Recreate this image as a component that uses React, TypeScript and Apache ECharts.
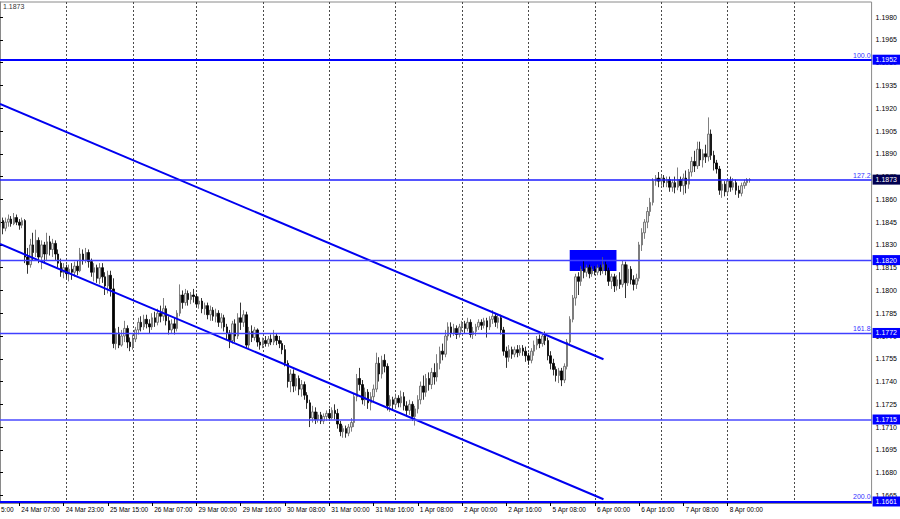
import React, { useEffect, useRef } from "react";
import * as echarts from "echarts";

// ---- x axis sessions (hourly bars) ----
const sessionDays = ["24 Mar", "25 Mar", "26 Mar", "29 Mar", "30 Mar", "31 Mar", "1 Apr", "2 Apr", "5 Apr", "6 Apr", "7 Apr", "8 Apr", "9 Apr", "12 Apr"];
const sessionFirstHour = [0, 0, 0, 0, 0, 0, 0, 0, 0, 0, 0, 0, 0, 0];
const sessionLastHour = [23, 23, 22, 23, 23, 23, 23, 23, 23, 23, 23, 23, 23, 4];
const cutLabel = "5:00"; // visible tail of the "23 Mar 15:00" label at the left edge

// ---- hourly candles [open, close, low, high] ----
const mar24 = [
  [1.1842, 1.1846, 1.1836, 1.1849], [1.1846, 1.1841, 1.1837, 1.1848], [1.1841, 1.1845, 1.1839, 1.1848],
  [1.1845, 1.1847, 1.1842, 1.185], [1.1847, 1.1844, 1.1842, 1.1849], [1.1844, 1.1848, 1.1843, 1.1851],
  [1.1848, 1.1845, 1.1843, 1.185], [1.1845, 1.1843, 1.184, 1.1847], [1.1843, 1.1846, 1.1841, 1.1848],
  [1.1846, 1.1822, 1.1818, 1.1847], [1.1822, 1.1817, 1.1811, 1.1828], [1.1817, 1.183, 1.1815, 1.1834],
  [1.183, 1.1825, 1.182, 1.1838], [1.1825, 1.1833, 1.1822, 1.184], [1.1833, 1.1822, 1.1818, 1.1835],
  [1.1822, 1.183, 1.1814, 1.1833], [1.183, 1.1824, 1.1818, 1.1832], [1.1824, 1.1832, 1.182, 1.1838],
  [1.1832, 1.1827, 1.1823, 1.1836], [1.1827, 1.1831, 1.1822, 1.1834], [1.1831, 1.1824, 1.182, 1.1833],
  [1.1824, 1.1818, 1.1815, 1.1827], [1.1818, 1.1812, 1.1809, 1.1821], [1.1812, 1.1815, 1.1808, 1.1818],
];
const mar25 = [
  [1.1815, 1.1811, 1.1808, 1.1817], [1.1811, 1.1814, 1.1806, 1.1817], [1.1814, 1.1812, 1.1807, 1.1818],
  [1.1812, 1.1816, 1.1809, 1.1819], [1.1816, 1.1813, 1.181, 1.182], [1.1813, 1.1824, 1.1812, 1.1828],
  [1.1824, 1.182, 1.1817, 1.1827], [1.182, 1.1825, 1.1818, 1.1828], [1.1825, 1.1819, 1.1815, 1.1827],
  [1.1819, 1.1812, 1.1809, 1.1821], [1.1812, 1.1815, 1.1806, 1.1818], [1.1815, 1.1808, 1.1805, 1.1817],
  [1.1808, 1.1815, 1.1804, 1.1818], [1.1815, 1.1809, 1.1805, 1.1818], [1.1809, 1.1803, 1.1797, 1.1812],
  [1.1803, 1.181, 1.1798, 1.1813], [1.181, 1.1801, 1.1796, 1.1813], [1.1801, 1.1765, 1.1762, 1.1808],
  [1.1765, 1.1772, 1.1761, 1.1775], [1.1772, 1.1764, 1.1762, 1.1776], [1.1764, 1.177, 1.1763, 1.1774],
  [1.177, 1.1775, 1.1766, 1.178], [1.1775, 1.1766, 1.1762, 1.1777], [1.1766, 1.1763, 1.176, 1.1769],
];
const mar26 = [
  [1.1763, 1.1768, 1.1761, 1.1771], [1.1768, 1.1774, 1.1766, 1.1776], [1.1774, 1.1779, 1.1771, 1.1782],
  [1.1779, 1.1776, 1.1773, 1.1783], [1.1776, 1.1781, 1.1774, 1.1784], [1.1781, 1.1778, 1.1775, 1.1784],
  [1.1778, 1.1776, 1.1772, 1.1781], [1.1776, 1.1782, 1.1774, 1.1785], [1.1782, 1.1779, 1.1776, 1.1786],
  [1.1779, 1.1785, 1.1777, 1.1788], [1.1785, 1.1783, 1.1779, 1.179], [1.1783, 1.1788, 1.178, 1.1795],
  [1.1788, 1.178, 1.1777, 1.179], [1.178, 1.1774, 1.1771, 1.1783], [1.1774, 1.1778, 1.1772, 1.1781],
  [1.1778, 1.1775, 1.1771, 1.1782], [1.1775, 1.1785, 1.1773, 1.1787], [1.1785, 1.1797, 1.1783, 1.1804],
  [1.1797, 1.1792, 1.1788, 1.18], [1.1792, 1.1798, 1.179, 1.1801], [1.1798, 1.1794, 1.179, 1.18],
  [1.1794, 1.1797, 1.1791, 1.1799], [1.1797, 1.1796, 1.1792, 1.1801],
];
const mar29 = [
  [1.1796, 1.1791, 1.1789, 1.1798], [1.1791, 1.1793, 1.1788, 1.1796], [1.1793, 1.1788, 1.1785, 1.1795],
  [1.1788, 1.179, 1.1784, 1.1792], [1.179, 1.1784, 1.1781, 1.1792], [1.1784, 1.1787, 1.178, 1.179],
  [1.1787, 1.1783, 1.178, 1.1789], [1.1783, 1.1785, 1.1779, 1.1788], [1.1785, 1.1779, 1.1776, 1.1787],
  [1.1779, 1.1782, 1.1775, 1.1785], [1.1782, 1.1776, 1.1773, 1.1784], [1.1776, 1.1772, 1.1768, 1.1778],
  [1.1772, 1.1767, 1.1762, 1.1774], [1.1767, 1.1778, 1.1765, 1.178], [1.1778, 1.177, 1.1766, 1.1781],
  [1.177, 1.1782, 1.1768, 1.1785], [1.1782, 1.1779, 1.1774, 1.1792], [1.1779, 1.1784, 1.1776, 1.1787],
  [1.1784, 1.1764, 1.1762, 1.1786], [1.1764, 1.1773, 1.1762, 1.1776], [1.1773, 1.1769, 1.1766, 1.1777],
  [1.1769, 1.1774, 1.1767, 1.1776], [1.1774, 1.1766, 1.1763, 1.1775], [1.1766, 1.1764, 1.1761, 1.1769],
];
const mar30 = [
  [1.1764, 1.1767, 1.1762, 1.1769], [1.1767, 1.1765, 1.1763, 1.177], [1.1765, 1.1768, 1.1763, 1.177],
  [1.1768, 1.1766, 1.1764, 1.1771], [1.1766, 1.177, 1.1764, 1.1774], [1.177, 1.1767, 1.1764, 1.1772],
  [1.1767, 1.1765, 1.1762, 1.177], [1.1765, 1.1761, 1.1758, 1.1767], [1.1761, 1.1752, 1.175, 1.1764],
  [1.1752, 1.174, 1.1736, 1.1754], [1.174, 1.1745, 1.1733, 1.1748], [1.1745, 1.1737, 1.1733, 1.1748],
  [1.1737, 1.1742, 1.1734, 1.1745], [1.1742, 1.1735, 1.1731, 1.1744], [1.1735, 1.1738, 1.173, 1.1741],
  [1.1738, 1.1731, 1.1728, 1.174], [1.1731, 1.1726, 1.1722, 1.1733], [1.1726, 1.1716, 1.171, 1.1728],
  [1.1716, 1.172, 1.1713, 1.1724], [1.172, 1.1715, 1.1712, 1.1723], [1.1715, 1.1718, 1.1713, 1.172],
  [1.1718, 1.1714, 1.1712, 1.172], [1.1714, 1.1717, 1.1712, 1.1719], [1.1717, 1.1719, 1.1714, 1.1721],
];
const mar31 = [
  [1.1719, 1.1716, 1.1714, 1.1722], [1.1716, 1.1721, 1.1715, 1.1723], [1.1721, 1.1719, 1.1715, 1.1725],
  [1.1719, 1.1712, 1.1709, 1.1722], [1.1712, 1.1707, 1.1704, 1.1714], [1.1707, 1.1709, 1.1703, 1.1711],
  [1.1709, 1.1706, 1.1703, 1.1711], [1.1706, 1.171, 1.1704, 1.1712], [1.171, 1.1713, 1.1707, 1.1716],
  [1.1713, 1.173, 1.171, 1.1732], [1.173, 1.1742, 1.1727, 1.1745], [1.1742, 1.1738, 1.1734, 1.1749],
  [1.1738, 1.1728, 1.1725, 1.1741], [1.1728, 1.1733, 1.1724, 1.1736], [1.1733, 1.1726, 1.1722, 1.1735],
  [1.1726, 1.173, 1.1721, 1.1733], [1.173, 1.1735, 1.1727, 1.1738], [1.1735, 1.1752, 1.1733, 1.1759],
  [1.1752, 1.1745, 1.174, 1.1756], [1.1745, 1.1754, 1.1742, 1.1757], [1.1754, 1.175, 1.1746, 1.1758],
  [1.175, 1.1724, 1.1721, 1.1752], [1.1724, 1.1728, 1.172, 1.1731], [1.1728, 1.1725, 1.1721, 1.173],
];
const apr1 = [
  [1.1725, 1.1729, 1.1722, 1.1732], [1.1729, 1.1726, 1.1723, 1.1731], [1.1726, 1.173, 1.1723, 1.1734],
  [1.173, 1.1724, 1.1721, 1.1733], [1.1724, 1.1721, 1.1717, 1.1727], [1.1721, 1.1725, 1.1718, 1.1728],
  [1.1725, 1.1717, 1.1714, 1.1727], [1.1717, 1.1722, 1.1711, 1.1724], [1.1722, 1.1728, 1.1719, 1.1731],
  [1.1728, 1.1737, 1.1725, 1.174], [1.1737, 1.1733, 1.1728, 1.1744], [1.1733, 1.1742, 1.173, 1.1745],
  [1.1742, 1.1738, 1.1734, 1.1746], [1.1738, 1.1746, 1.1735, 1.1749], [1.1746, 1.1743, 1.1738, 1.1752],
  [1.1743, 1.1752, 1.174, 1.1758], [1.1752, 1.176, 1.1748, 1.1763], [1.176, 1.1758, 1.1754, 1.1765],
  [1.1758, 1.177, 1.1756, 1.1774], [1.177, 1.1776, 1.1767, 1.1779], [1.1776, 1.1772, 1.1769, 1.1779],
  [1.1772, 1.1775, 1.177, 1.1778], [1.1775, 1.1771, 1.1768, 1.1777], [1.1771, 1.1776, 1.1769, 1.1778],
];
const apr2 = [
  [1.1776, 1.1778, 1.1773, 1.178], [1.1778, 1.1775, 1.1772, 1.178], [1.1775, 1.1779, 1.1773, 1.1782],
  [1.1779, 1.1771, 1.1769, 1.1781], [1.1771, 1.1773, 1.1768, 1.1776], [1.1773, 1.1776, 1.177, 1.1778],
  [1.1776, 1.1779, 1.1774, 1.1781], [1.1779, 1.1777, 1.1774, 1.1781], [1.1777, 1.178, 1.1775, 1.1782],
  [1.178, 1.1776, 1.1769, 1.1782], [1.1776, 1.1781, 1.1774, 1.1783], [1.1781, 1.1783, 1.1778, 1.1787],
  [1.1783, 1.1779, 1.1776, 1.1785], [1.1779, 1.1782, 1.1775, 1.1784], [1.1782, 1.1774, 1.1771, 1.1784],
  [1.1774, 1.176, 1.1757, 1.1776], [1.176, 1.1756, 1.1749, 1.1763], [1.1756, 1.1761, 1.1753, 1.1764],
  [1.1761, 1.1758, 1.1755, 1.1763], [1.1758, 1.1761, 1.1756, 1.1763], [1.1761, 1.1759, 1.1756, 1.1764],
  [1.1759, 1.1762, 1.1757, 1.1764], [1.1762, 1.176, 1.1757, 1.1764], [1.176, 1.1757, 1.1753, 1.1763],
];
const apr5 = [
  [1.1757, 1.1754, 1.1751, 1.1759], [1.1754, 1.176, 1.1752, 1.1762], [1.176, 1.1764, 1.1757, 1.1767],
  [1.1764, 1.1768, 1.1761, 1.177], [1.1768, 1.1765, 1.1762, 1.1771], [1.1765, 1.177, 1.1763, 1.1772],
  [1.177, 1.1767, 1.1764, 1.1773], [1.1767, 1.1757, 1.1754, 1.1769], [1.1757, 1.1752, 1.1748, 1.176],
  [1.1752, 1.1748, 1.1744, 1.1755], [1.1748, 1.1744, 1.174, 1.175], [1.1744, 1.1747, 1.1739, 1.1749],
  [1.1747, 1.1741, 1.1737, 1.1749], [1.1741, 1.175, 1.1739, 1.1752], [1.175, 1.1766, 1.1748, 1.1768],
  [1.1766, 1.1781, 1.1764, 1.1783], [1.1781, 1.1795, 1.1779, 1.1797], [1.1795, 1.1809, 1.179, 1.1811],
  [1.1809, 1.1806, 1.1797, 1.1812], [1.1806, 1.1814, 1.1803, 1.1816], [1.1814, 1.1812, 1.1808, 1.182],
  [1.1812, 1.1815, 1.1809, 1.1817], [1.1815, 1.1811, 1.1808, 1.1817], [1.1811, 1.1814, 1.1809, 1.1816],
];
const apr6 = [
  [1.1814, 1.1812, 1.181, 1.1816], [1.1812, 1.1815, 1.181, 1.1817], [1.1815, 1.1813, 1.181, 1.1817],
  [1.1813, 1.1817, 1.1811, 1.1822], [1.1817, 1.1813, 1.181, 1.1819], [1.1813, 1.1806, 1.1803, 1.1815],
  [1.1806, 1.1809, 1.1801, 1.1811], [1.1809, 1.1803, 1.1799, 1.1811], [1.1803, 1.1807, 1.18, 1.181],
  [1.1807, 1.1804, 1.1801, 1.1812], [1.1804, 1.1817, 1.1802, 1.182], [1.1817, 1.1805, 1.1795, 1.1819],
  [1.1805, 1.1814, 1.1803, 1.1817], [1.1814, 1.1807, 1.1804, 1.1816], [1.1807, 1.1804, 1.18, 1.181],
  [1.1804, 1.1808, 1.1801, 1.1811], [1.1808, 1.183, 1.1806, 1.1832], [1.183, 1.1838, 1.1826, 1.1841],
  [1.1838, 1.1845, 1.1834, 1.1847], [1.1845, 1.1852, 1.1841, 1.1855], [1.1852, 1.1858, 1.1849, 1.1861],
  [1.1858, 1.1872, 1.1856, 1.1874], [1.1872, 1.1874, 1.1869, 1.1876], [1.1874, 1.1872, 1.1868, 1.1878],
];
const apr7 = [
  [1.1872, 1.1874, 1.1869, 1.1876], [1.1874, 1.1871, 1.1868, 1.1876], [1.1871, 1.1873, 1.1868, 1.1875],
  [1.1873, 1.1868, 1.1865, 1.1875], [1.1868, 1.1871, 1.1865, 1.1873], [1.1871, 1.1868, 1.1864, 1.1875],
  [1.1868, 1.1873, 1.1866, 1.1881], [1.1873, 1.1869, 1.1865, 1.1875], [1.1869, 1.1874, 1.1863, 1.1877],
  [1.1874, 1.187, 1.1864, 1.1879], [1.187, 1.1878, 1.1867, 1.188], [1.1878, 1.1885, 1.1875, 1.1888],
  [1.1885, 1.1882, 1.1878, 1.1892], [1.1882, 1.1893, 1.188, 1.1898], [1.1893, 1.1886, 1.1882, 1.1898],
  [1.1886, 1.189, 1.1881, 1.1893], [1.189, 1.1888, 1.1884, 1.1896], [1.1888, 1.1903, 1.1885, 1.1914],
  [1.1903, 1.1889, 1.1886, 1.1906], [1.1889, 1.1884, 1.1879, 1.1892], [1.1884, 1.188, 1.1877, 1.1886],
  [1.188, 1.1866, 1.1863, 1.1882], [1.1866, 1.187, 1.1861, 1.1873], [1.187, 1.1865, 1.1862, 1.1872],
];
const apr8 = [
  [1.1865, 1.1872, 1.1863, 1.1874], [1.1872, 1.1868, 1.1865, 1.1875], [1.1868, 1.1871, 1.1866, 1.1874],
  [1.1871, 1.1866, 1.1863, 1.1873], [1.1866, 1.1864, 1.1861, 1.1869], [1.1864, 1.1869, 1.1862, 1.1871],
  [1.1869, 1.1871, 1.1867, 1.1873], [1.1871, 1.1873, 1.1869, 1.1874], [1.1873, 1.1873, 1.1871, 1.1874],
];

// ---- price levels ----
const levelPrices = [1.1952, 1.1873, 1.182, 1.1772, 1.1715, 1.1661];
const levelWidths = [2, 1.6, 1.4, 1.4, 1.6, 2];
const levelColors = ["#0000ff", "#1c1cff", "#4040ff", "#4040ff", "#4a4aff", "#0000ff"];
const fibPrices = [1.1952, 1.1873, 1.1772, 1.1661];
const fibTexts = ["100.0", "127.2", "161.8", "200.0"];
const yTicks = [1.1665, 1.168, 1.1695, 1.171, 1.1725, 1.174, 1.1755, 1.177, 1.1785, 1.18, 1.1815, 1.183, 1.1845, 1.186, 1.1875, 1.189, 1.1905, 1.192, 1.1935, 1.195, 1.1965, 1.198];

// ---- drawn objects (bar index, price) ----
const upperTrend = [[0, 1.19228], [218.1, 1.17547]];
const lowerTrend = [[0, 1.18306], [218.1, 1.16625]];
const zoneCorners = [[205.9, 1.18266], [222.8, 1.18128]];
const lastPrice = "1.1873";

export default function App() {
  const ref = useRef<HTMLDivElement>(null);

  useEffect(() => {
    if (!ref.current) return;
    const chart = echarts.init(ref.current, null, { renderer: "svg" });
    const font = "'Liberation Sans', Arial, sans-serif";

    const categories: string[] = [];
    sessionDays.forEach((d, k) => {
      for (let h = sessionFirstHour[k]; h <= sessionLastHour[k]; h++) {
        categories.push(`${d} ${String(h).padStart(2, "0")}:00`);
      }
    });

    const candles = [...mar24, ...mar25, ...mar26, ...mar29, ...mar30, ...mar31, ...apr1, ...apr2, ...apr5, ...apr6, ...apr7, ...apr8];
    const lastIdx = candles.length - 1;
    const n = categories.length;

    const labelInterval = (idx: number) => idx % 16 === 7 && idx <= lastIdx;
    const dayInterval = (idx: number, val: string) => val.endsWith(" 00:00") && !val.startsWith("12 Apr");

    const markData: any[] = levelPrices.map((p, k) => ({
      yAxis: p,
      lineStyle: { color: levelColors[k], width: levelWidths[k], type: "solid", opacity: 1 },
      label: {
        show: true,
        position: "end",
        formatter: p.toFixed(4),
        color: "#ffffff",
        backgroundColor: p === 1.1873 ? "#000050" : "#0000ff",
        fontSize: 7,
        fontFamily: font,
        padding: [2, 3, 1, 3],
        distance: 1,
      },
    }));
    const fibMarks: any[] = fibPrices.map((p, k) => ({
      yAxis: p,
      lineStyle: { color: "rgba(0,0,0,0)", width: 1, opacity: 1 },
      label: {
        show: true,
        position: "insideEndTop",
        formatter: fibTexts[k],
        color: "#3333ff",
        opacity: 1,
        fontSize: 7,
        fontFamily: font,
        distance: [1, 1],
      },
    }));

    const spacing = 2.769;
    const gridRight = 900 - (n - 1) * spacing;

    chart.setOption({
      animation: false,
      backgroundColor: "#ffffff",
      textStyle: { fontFamily: font },
      grid: {
        left: 0,
        right: gridRight,
        top: 2,
        bottom: 16,
        show: true,
        borderColor: "#8a8a8a",
        borderWidth: 1,
      },
      xAxis: [
        {
          type: "category",
          data: categories,
          boundaryGap: false,
          axisLine: { show: true, lineStyle: { color: "#8a8a8a" } },
          axisTick: { show: true, interval: labelInterval, length: 3, lineStyle: { color: "#000000" } },
          axisLabel: {
            interval: labelInterval,
            align: "left",
            fontSize: 6.5,
            fontFamily: font,
            color: "#000000",
            margin: 3,
            padding: [0, 0, 0, 2],
          },
          splitLine: { show: true, interval: dayInterval, lineStyle: { color: "#4a4a4a", type: [2, 2], width: 1 } },
        },
        { type: "value", min: 0, max: n - 1, show: false },
      ],
      yAxis: {
        type: "value",
        position: "right",
        min: 1.166,
        max: 1.199,
        axisLine: { show: true, lineStyle: { color: "#8a8a8a" } },
        axisTick: { show: true, customValues: yTicks, length: 3, lineStyle: { color: "#000000" } },
        axisLabel: {
          customValues: yTicks,
          formatter: (v: number) => v.toFixed(4),
          fontSize: 7,
          fontFamily: font,
          color: "#000000",
          margin: 4,
        },
        splitLine: { show: false },
      },
      graphic: [
        { type: "text", left: 3, top: 3, style: { text: lastPrice, fontSize: 7, fontFamily: font, fill: "#333333" } },
        {
          type: "text",
          x: 1,
          y: 506,
          style: { text: cutLabel, fontSize: 6.5, fontFamily: font, fill: "#000000" },
        },
      ],
      series: [
        {
          type: "line",
          xAxisIndex: 1,
          data: upperTrend,
          symbol: "none",
          silent: true,
          z: 4,
          lineStyle: { color: "#0000f0", width: 2 },
          markArea: {
            silent: true,
            z: 1,
            itemStyle: { color: "#0000ff", opacity: 1 },
            data: [[{ coord: zoneCorners[0] }, { coord: zoneCorners[1] }]],
          },
          markLine: {
            silent: true,
            precision: 5,
            symbol: ["none", "none"],
            z: 5,
            data: fibMarks,
          },
        },
        {
          type: "line",
          xAxisIndex: 1,
          data: lowerTrend,
          symbol: "none",
          silent: true,
          z: 4,
          lineStyle: { color: "#0000f0", width: 2 },
          markLine: {
            silent: true,
            precision: 5,
            symbol: ["none", "none"],
            z: 5,
            data: markData,
          },
        },
        {
          type: "candlestick",
          data: candles,
          barWidth: 2,
          z: 3,
          silent: true,
          itemStyle: {
            color: "#e2e2e2",
            color0: "#000000",
            borderColor: "#606060",
            borderColor0: "#000000",
            borderWidth: 0.8,
          },
        },
      ],
    });

    return () => chart.dispose();
  }, []);

  return (
    <div
      ref={ref}
      style={{ position: "fixed", left: 0, top: 0, width: 900, height: 519, background: "#ffffff" }}
    />
  );
}
